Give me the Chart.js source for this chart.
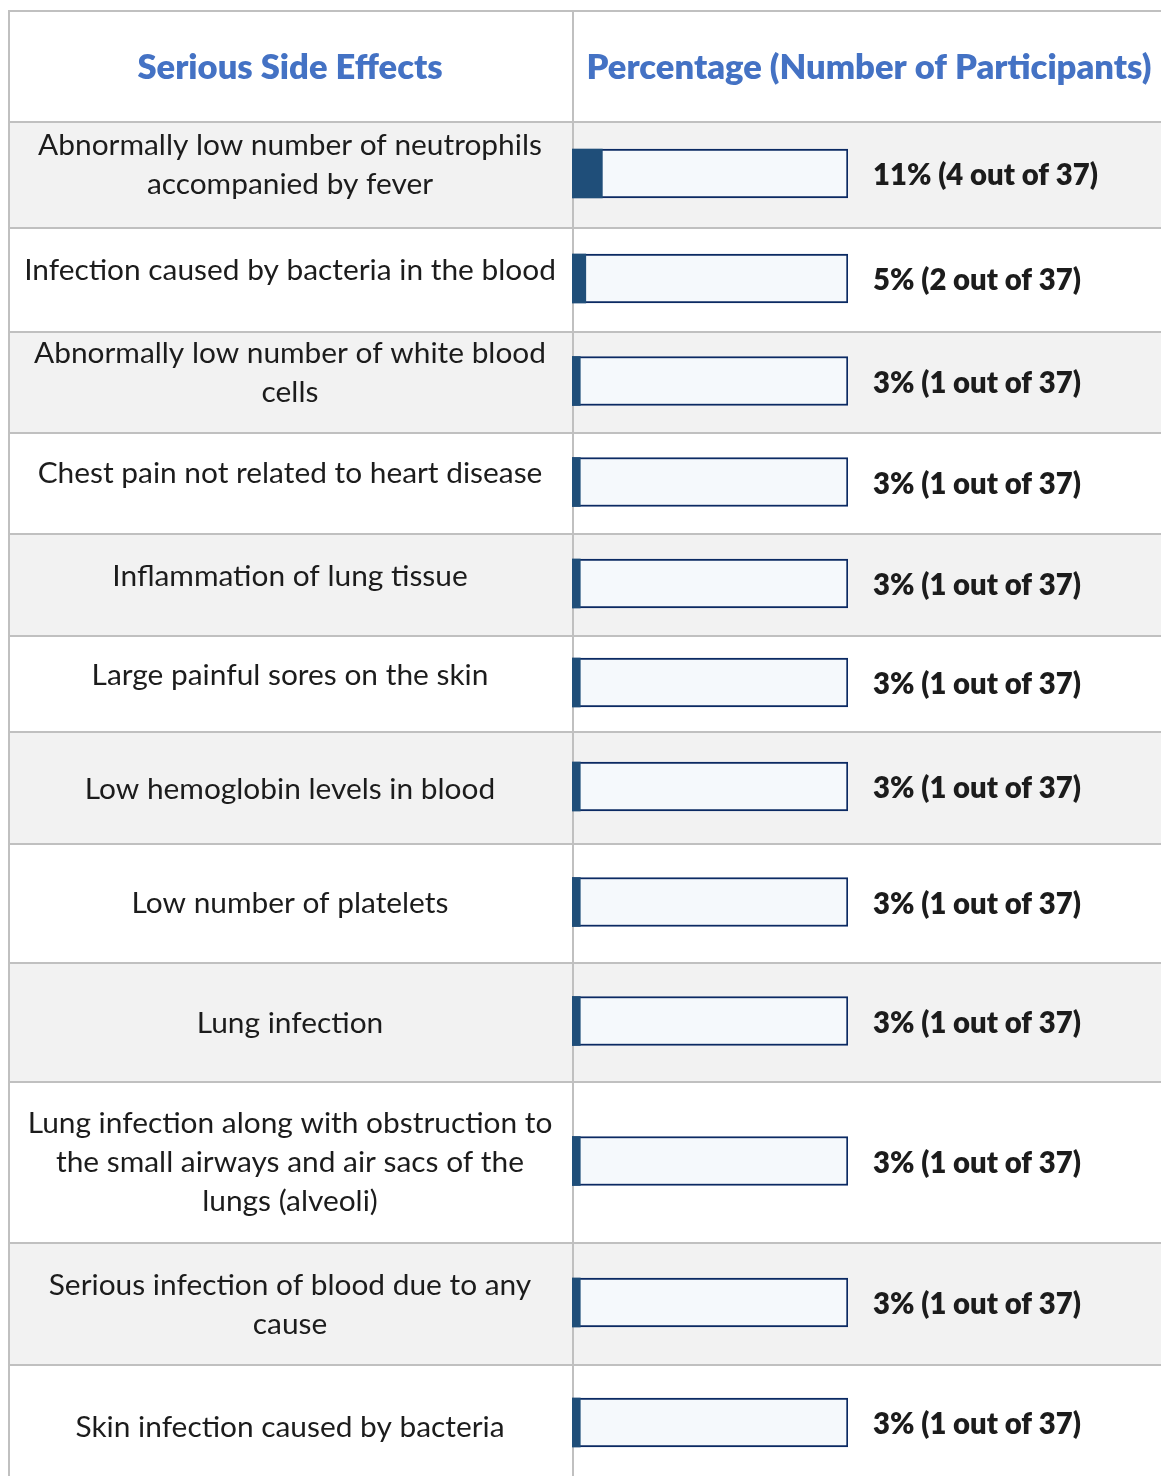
<!DOCTYPE html>
<html>
<head>
<meta charset="utf-8">
<script src="https://cdn.jsdelivr.net/npm/chart.js@4/dist/chart.umd.min.js"></script>
<style>
  html, body { margin: 0; padding: 0; background: #ffffff; overflow: hidden; }
  #wrap { width: 1161px; height: 1483px; }
</style>
</head>
<body>
<div id="wrap"><canvas id="c" width="1161" height="1483"></canvas></div>
<script>
// ---------- DATA ----------
const categories = [
  ["Abnormally low number of neutrophils", "accompanied by fever"],
  ["Infection caused by bacteria in the blood"],
  ["Abnormally low number of white blood", "cells"],
  ["Chest pain not related to heart disease"],
  ["Inflammation of lung tissue"],
  ["Large painful sores on the skin"],
  ["Low hemoglobin levels in blood"],
  ["Low number of platelets"],
  ["Lung infection"],
  ["Lung infection along with obstruction to", "the small airways and air sacs of the", "lungs (alveoli)"],
  ["Serious infection of blood due to any", "cause"],
  ["Skin infection caused by bacteria"]
];
const percentValues = [11, 5, 3, 3, 3, 3, 3, 3, 3, 3, 3, 3];
const participantCounts = [4, 2, 1, 1, 1, 1, 1, 1, 1, 1, 1, 1];
const totalParticipants = 37;
const headers = ["Serious Side Effects", "Percentage (Number of Participants)"];
const scaleMax = 100;

// ---------- LAYOUT ----------
const W = 1161;
const tableLeft = 8, tableTop = 10, colSplit = 572, barRight = 848, headerBottom = 122;
const rowHeights = [106, 104, 101, 101, 102, 96, 112, 119, 119, 161, 122, 118];
const labelShift = [-10, -10, -10, -10, -9, -9, 1, 0, 1, 0, 1, 3];
const lineGap = 39;
const barThickness = 49;
const gridColor = "#c0c0c0";
const stripeColor = "#f2f2f2";
const headerColor = "#4472c4";
const textColor = "#1c1c1c";

const rowTops = [];
const rowCenters = [];
let acc = 0;
rowHeights.forEach(h => { rowTops.push(acc); rowCenters.push(acc + h / 2); acc += h; });
const totalRows = acc;

const valueLabels = percentValues.map((p, i) => `${p}% (${participantCounts[i]} out of ${totalParticipants})`);

// font fitting
const mctx = document.createElement("canvas").getContext("2d");
function fitSize(text, weight, family, targetWidth) {
  mctx.font = `${weight} 100px ${family}`;
  return 100 * targetWidth / mctx.measureText(text).width;
}
const FAMILY = "Lato, 'Open Sans', sans-serif";
const BOLD = "800";
const bodySize = fitSize("Abnormally low number of neutrophils", "400", FAMILY, 504);
const valueSize = fitSize("11% (4 out of 37)", BOLD, FAMILY, 225);
const headSize = fitSize("Percentage (Number of Participants)", BOLD, FAMILY, 565);

const tablePlugin = {
  id: "tablePlugin",
  beforeDatasetsDraw(chart) {
    const ctx = chart.ctx;
    const y = chart.scales.y;
    const H = chart.height;
    ctx.save();
    ctx.fillStyle = "#ffffff";
    ctx.fillRect(0, 0, W, H);
    rowTops.forEach((t, i) => {
      const top = y.getPixelForValue(t);
      const bot = y.getPixelForValue(t + rowHeights[i]);
      if (i % 2 === 0) {
        ctx.fillStyle = stripeColor;
        ctx.fillRect(tableLeft, top, W - tableLeft, bot - top);
      }
    });
    ctx.strokeStyle = gridColor;
    ctx.lineWidth = 2;
    ctx.beginPath();
    ctx.moveTo(tableLeft, tableTop + 1); ctx.lineTo(W, tableTop + 1);
    rowTops.forEach(t => {
      const p = Math.round(y.getPixelForValue(t));
      ctx.moveTo(tableLeft, p); ctx.lineTo(W, p);
    });
    ctx.moveTo(tableLeft + 1, tableTop); ctx.lineTo(tableLeft + 1, H);
    ctx.moveTo(colSplit + 1, tableTop); ctx.lineTo(colSplit + 1, H);
    ctx.stroke();
    ctx.restore();
  },
  afterDatasetsDraw(chart) {
    const ctx = chart.ctx;
    const y = chart.scales.y;
    ctx.save();
    ctx.textBaseline = "middle";
    ctx.fillStyle = headerColor;
    ctx.font = `${BOLD} ${headSize}px ${FAMILY}`;
    ctx.textAlign = "center";
    const hy = (tableTop + headerBottom) / 2 + 2;
    ctx.fillText(headers[0], (tableLeft + colSplit) / 2, hy);
    ctx.fillText(headers[1], 869, hy);
    ctx.fillStyle = textColor;
    ctx.font = `400 ${bodySize}px ${FAMILY}`;
    categories.forEach((lines, i) => {
      const cy = y.getPixelForValue(rowCenters[i]) + labelShift[i];
      const start = cy - (lines.length - 1) * lineGap / 2;
      lines.forEach((ln, k) => ctx.fillText(ln, (tableLeft + colSplit) / 2, start + k * lineGap));
    });
    ctx.font = `${BOLD} ${valueSize}px ${FAMILY}`;
    ctx.textAlign = "left";
    const xs = chart.scales.x;
    valueLabels.forEach((t, i) => {
      const cy = y.getPixelForValue(rowCenters[i]) + 1;
      ctx.fillText(t, xs.getPixelForValue(scaleMax) + 25, cy);
    });
    ctx.restore();
  }
};

new Chart(document.getElementById("c"), {
  type: "bar",
  data: {
    datasets: [
      {
        label: "value",
        data: percentValues.map((v, i) => ({ x: v, y: rowCenters[i] - 1.5 })),
        backgroundColor: "#1f4e79",
        borderWidth: 0,
        barThickness: barThickness,
        grouped: false,
        order: 1
      },
      {
        label: "track",
        data: percentValues.map((v, i) => ({ x: scaleMax, y: rowCenters[i] - 1.5 })),
        backgroundColor: "#f5f9fc",
        borderColor: "#0b2a63",
        borderWidth: 2,
        borderSkipped: false,
        barThickness: barThickness,
        grouped: false,
        order: 2
      }
    ]
  },
  options: {
    indexAxis: "y",
    responsive: false,
    animation: false,
    devicePixelRatio: 1,
    layout: { padding: { left: colSplit, right: W - barRight, top: headerBottom, bottom: 0 } },
    scales: {
      x: { type: "linear", min: 0, max: scaleMax, display: false, offset: false },
      y: { type: "linear", min: 0, max: totalRows, reverse: true, display: false, offset: false }
    },
    plugins: { legend: { display: false }, tooltip: { enabled: false } }
  },
  plugins: [tablePlugin]
});
</script>
</body>
</html>
